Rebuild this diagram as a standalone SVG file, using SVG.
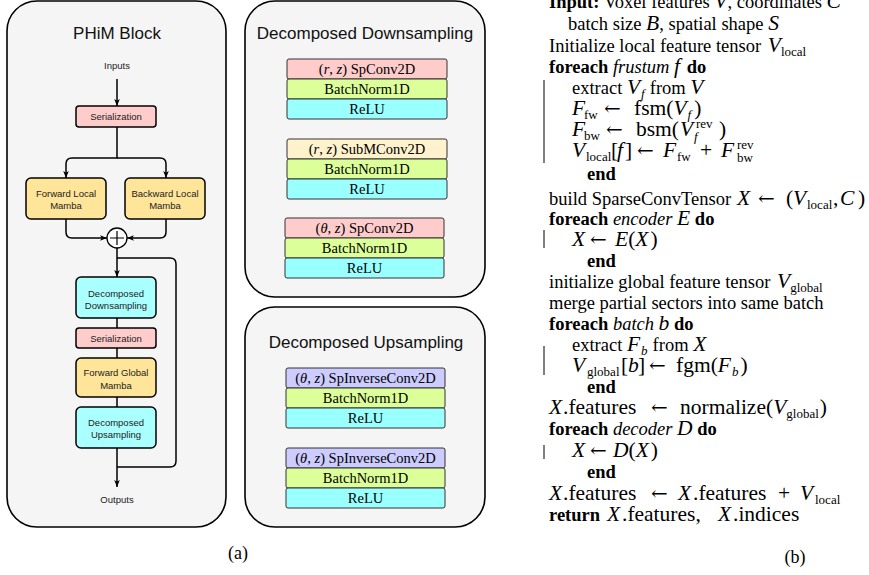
<svg xmlns="http://www.w3.org/2000/svg" width="869" height="575" viewBox="0 0 869 575">
<style>
.panel{fill:#f5f5f5;stroke:#000;stroke-width:1.6}
.box{stroke:#000;stroke-width:1.5}
.st{stroke:#333;stroke-width:1}
.pink{fill:#ffcccc}.yel{fill:#ffe599}.cyan{fill:#aaffff}
.sgreen{fill:#ddff99}.scyan{fill:#99ffff}.syel{fill:#fff2cc}.slav{fill:#ccccff}
.lbl{font-family:"Liberation Sans",Arial,sans-serif;font-size:9.5px;fill:#222;text-anchor:middle}
.title{font-family:"Liberation Sans",Arial,sans-serif;font-size:17px;fill:#111;text-anchor:middle}
.stx{font-family:"Liberation Serif","Times New Roman",serif;font-size:14.5px;fill:#000;text-anchor:middle}
.alg{font-family:"Liberation Serif","Times New Roman",serif;font-size:18.5px;fill:#000}
.cap{font-family:"Liberation Serif","Times New Roman",serif;font-size:18px;fill:#000;text-anchor:middle}
.conn{fill:none;stroke:#000;stroke-width:1.5}
.bar{stroke:#000;stroke-width:1}
.i{font-style:italic}.b{font-weight:bold}
.m{font-size:21.5px}
.mi{font-size:21.5px;font-style:italic}
.ar{font-family:"DejaVu Serif",serif;font-size:20px}
.sub{font-size:13px}
</style>
<defs>
<marker id="ah" viewBox="0 0 10 10" refX="10" refY="5" markerWidth="7" markerHeight="7" orient="auto" markerUnits="userSpaceOnUse">
<path d="M0,1 L10,5 L0,9 L2.5,5 Z" fill="#000"/>
</marker>
</defs>

<!-- PHiM Block panel -->
<g id="phim-panel">
<rect class="panel" x="7" y="1" width="219" height="526" rx="30"/>
<text class="title" x="117" y="39">PHiM Block</text>
<text class="lbl" x="117" y="68.5">Inputs</text>
<text class="lbl" x="117" y="503">Outputs</text>
</g>

<g id="connectors">
<path class="conn" d="M117,79 V106" marker-end="url(#ah)"/>
<path class="conn" d="M117,127 V158 H72 Q66,158 66,164 V178" marker-end="url(#ah)"/>
<path class="conn" d="M117,158 H160 Q166,158 166,164 V178" marker-end="url(#ah)"/>
<path class="conn" d="M66,219 V232 Q66,238 72,238 H107" marker-end="url(#ah)"/>
<path class="conn" d="M166,219 V232 Q166,238 160,238 H127" marker-end="url(#ah)"/>
<path class="conn" d="M117,248 V277" marker-end="url(#ah)"/>
<path class="conn" d="M117,258 H170 Q176,258 176,264 V461 Q176,467 170,467 H117"/>
<path class="conn" d="M117,318 V328 M117,348 V358 M117,397 V407"/>
<path class="conn" d="M117,448 V487" marker-end="url(#ah)"/>
</g>

<g id="serialization1">
<rect class="box pink" x="76" y="106" width="80" height="21" rx="3"/>
<text class="lbl" x="116" y="120">Serialization</text>
</g>
<g id="forward-local">
<rect class="box yel" x="26" y="178" width="80" height="41" rx="5"/>
<text class="lbl" x="66" y="196.5">Forward Local</text>
<text class="lbl" x="66" y="208.5">Mamba</text>
</g>
<g id="backward-local">
<rect class="box yel" x="125" y="178" width="80" height="41" rx="5"/>
<text class="lbl" x="165" y="196.5">Backward Local</text>
<text class="lbl" x="165" y="208.5">Mamba</text>
</g>
<g id="plus">
<circle cx="117" cy="238" r="10" fill="#fff" stroke="#000" stroke-width="1.3"/>
<path d="M110,238 H124 M117,231 V245" stroke="#000" stroke-width="1.2"/>
</g>
<g id="dec-down">
<rect class="box cyan" x="76" y="277" width="80" height="41" rx="5"/>
<text class="lbl" x="116" y="296.5">Decomposed</text>
<text class="lbl" x="116" y="308.5">Downsampling</text>
</g>
<g id="serialization2">
<rect class="box pink" x="76" y="328" width="80" height="20" rx="3"/>
<text class="lbl" x="116" y="342">Serialization</text>
</g>
<g id="forward-global">
<rect class="box yel" x="76" y="358" width="80" height="39" rx="5"/>
<text class="lbl" x="116" y="376">Forward Global</text>
<text class="lbl" x="116" y="388.5">Mamba</text>
</g>
<g id="dec-up">
<rect class="box cyan" x="76" y="407" width="80" height="41" rx="5"/>
<text class="lbl" x="116" y="426">Decomposed</text>
<text class="lbl" x="116" y="438">Upsampling</text>
</g>

<!-- Decomposed Downsampling panel -->
<g id="down-panel">
<rect class="panel" x="245" y="1" width="240" height="296" rx="30"/>
<text class="title" x="365" y="39">Decomposed Downsampling</text>
<rect class="st pink" x="287" y="59" width="160" height="20" rx="2"/>
<text class="stx" x="367" y="74"><tspan>(</tspan><tspan class="i">r</tspan><tspan>, </tspan><tspan class="i">z</tspan><tspan>) SpConv2D</tspan></text>
<rect class="st sgreen" x="287" y="79" width="160" height="20" rx="2"/>
<text class="stx" x="367" y="94">BatchNorm1D</text>
<rect class="st scyan" x="287" y="99" width="160" height="20" rx="2"/>
<text class="stx" x="367" y="114">ReLU</text>

<rect class="st syel" x="287" y="139" width="160" height="20" rx="2"/>
<text class="stx" x="367" y="154"><tspan>(</tspan><tspan class="i">r</tspan><tspan>, </tspan><tspan class="i">z</tspan><tspan>) SubMConv2D</tspan></text>
<rect class="st sgreen" x="287" y="159" width="160" height="20" rx="2"/>
<text class="stx" x="367" y="174">BatchNorm1D</text>
<rect class="st scyan" x="287" y="179" width="160" height="20" rx="2"/>
<text class="stx" x="367" y="194">ReLU</text>

<rect class="st pink" x="285" y="218" width="159" height="20" rx="2"/>
<text class="stx" x="364.5" y="233"><tspan>(</tspan><tspan class="i">θ</tspan><tspan>, </tspan><tspan class="i">z</tspan><tspan>) SpConv2D</tspan></text>
<rect class="st sgreen" x="285" y="238" width="159" height="20" rx="2"/>
<text class="stx" x="364.5" y="253">BatchNorm1D</text>
<rect class="st scyan" x="285" y="258" width="159" height="20" rx="2"/>
<text class="stx" x="364.5" y="273">ReLU</text>
</g>

<!-- Decomposed Upsampling panel -->
<g id="up-panel">
<rect class="panel" x="245" y="307" width="240" height="220" rx="30"/>
<text class="title" x="366" y="348">Decomposed Upsampling</text>
<rect class="st slav" x="286" y="368" width="159" height="20" rx="2"/>
<text class="stx" x="365.5" y="383"><tspan>(</tspan><tspan class="i">θ</tspan><tspan>, </tspan><tspan class="i">z</tspan><tspan>) SpInverseConv2D</tspan></text>
<rect class="st sgreen" x="286" y="388" width="159" height="20" rx="2"/>
<text class="stx" x="365.5" y="403">BatchNorm1D</text>
<rect class="st scyan" x="286" y="408" width="159" height="20" rx="2"/>
<text class="stx" x="365.5" y="423">ReLU</text>

<rect class="st slav" x="286" y="448" width="159" height="20" rx="2"/>
<text class="stx" x="365.5" y="463"><tspan>(</tspan><tspan class="i">θ</tspan><tspan>, </tspan><tspan class="i">z</tspan><tspan>) SpInverseConv2D</tspan></text>
<rect class="st sgreen" x="286" y="468" width="159" height="20" rx="2"/>
<text class="stx" x="365.5" y="483">BatchNorm1D</text>
<rect class="st scyan" x="286" y="488" width="159" height="20" rx="2"/>
<text class="stx" x="365.5" y="503">ReLU</text>
</g>

<text class="cap" x="238" y="559">(a)</text>

<!-- Algorithm -->
<g id="algorithm">
<line class="bar" x1="544" y1="80" x2="544" y2="163"/>
<line class="bar" x1="544" y1="230" x2="544" y2="248"/>
<line class="bar" x1="544" y1="346" x2="544" y2="375"/>
<line class="bar" x1="544" y1="445" x2="544" y2="459"/>

<text class="alg" x="549" y="8"><tspan class="b">Input:</tspan> Voxel features <tspan class="mi">V</tspan>, coordinates <tspan class="mi">C</tspan></text>
<text class="alg" x="568" y="30">batch size <tspan class="mi">B</tspan>, spatial shape <tspan class="mi">S</tspan></text>
<text class="alg" x="549" y="52">Initialize local feature tensor <tspan class="mi" dx="2">V</tspan><tspan class="sub" dy="4">local</tspan></text>
<text class="alg" x="549" y="73"><tspan class="b">foreach</tspan> <tspan class="i">frustum</tspan> <tspan class="mi">f</tspan> <tspan class="b" dx="2">do</tspan></text>
<text class="alg" x="572" y="94">extract <tspan class="mi">V</tspan><tspan class="sub i" dx="1" dy="4">f</tspan><tspan dx="5" dy="-4">from </tspan><tspan class="mi">V</tspan></text>
<text class="alg" x="572" y="115"><tspan class="mi">F</tspan><tspan class="sub" x="584" dy="4">fw</tspan><tspan class="ar" x="604" dy="-4">←</tspan><tspan class="m" x="634">fsm(</tspan><tspan class="mi">V</tspan><tspan class="sub i" dx="1" dy="4">f</tspan><tspan class="m" dx="3" dy="-4">)</tspan></text>
<text class="alg" x="572" y="136"><tspan class="mi">F</tspan><tspan class="sub" x="584" dy="4">bw</tspan><tspan class="ar" x="606" dy="-4">←</tspan><tspan class="m" x="636">bsm(</tspan><tspan class="mi" x="680">V</tspan><tspan class="sub i" x="694" dy="5">f</tspan><tspan class="sub" x="696" dy="-13">rev</tspan><tspan class="m" x="719" dy="8">)</tspan></text>
<text class="alg" x="572" y="157"><tspan class="mi">V</tspan><tspan class="sub" x="586" dy="4">local</tspan><tspan class="m" x="611" dy="-4">[</tspan><tspan class="mi" x="617">f</tspan><tspan class="m" x="625">]</tspan><tspan class="ar" x="637">←</tspan><tspan class="mi" x="663">F</tspan><tspan class="sub" x="677" dy="4">fw</tspan><tspan class="m" x="700" dy="-4">+</tspan><tspan class="mi" x="721">F</tspan><tspan class="sub" x="737" dy="5">bw</tspan><tspan class="sub" x="737" dy="-13">rev</tspan></text>
<text class="alg b" x="587" y="180">end</text>
<text class="alg" x="549" y="205">build SparseConvTensor<tspan class="mi" x="737">X</tspan><tspan class="ar" x="758">←</tspan><tspan class="m" x="786">(</tspan><tspan class="mi" x="793">V</tspan><tspan class="sub" x="807" dy="4">local</tspan><tspan class="m" x="833" dy="-4">,</tspan><tspan class="mi" x="840">C</tspan><tspan class="m" x="858">)</tspan></text>
<text class="alg" x="549" y="225"><tspan class="b">foreach</tspan> <tspan class="i">encoder</tspan> <tspan class="mi">E</tspan> <tspan class="b">do</tspan></text>
<text class="alg" x="572" y="246"><tspan class="mi">X</tspan><tspan class="ar" x="590">←</tspan><tspan class="mi" x="615">E</tspan><tspan class="m">(</tspan><tspan class="mi">X</tspan><tspan class="m" dx="2">)</tspan></text>
<text class="alg b" x="587" y="267">end</text>
<text class="alg" x="549" y="288">initialize global feature tensor <tspan class="mi" dx="2">V</tspan><tspan class="sub" dy="4">global</tspan></text>
<text class="alg" x="549" y="309">merge partial sectors into same batch</text>
<text class="alg" x="549" y="330"><tspan class="b">foreach</tspan> <tspan class="i">batch</tspan> <tspan class="mi">b</tspan> <tspan class="b">do</tspan></text>
<text class="alg" x="572" y="351">extract <tspan class="mi">F</tspan><tspan class="sub i" dx="1" dy="4">b</tspan><tspan dx="5" dy="-4">from </tspan><tspan class="mi">X</tspan></text>
<text class="alg" x="572" y="372"><tspan class="mi">V</tspan><tspan class="sub" x="587" dy="4">global</tspan><tspan class="m" x="621" dy="-4">[</tspan><tspan class="mi" x="628">b</tspan><tspan class="m" x="638">]</tspan><tspan class="ar" x="649">←</tspan><tspan class="m" x="676">fgm(</tspan><tspan class="mi">F</tspan><tspan class="sub i" dx="1" dy="4">b</tspan><tspan class="m" dx="2" dy="-4">)</tspan></text>
<text class="alg b" x="587" y="393">end</text>
<text class="alg" x="549" y="414"><tspan class="mi">X</tspan><tspan class="m" x="563">.features</tspan><tspan class="ar" x="651">←</tspan><tspan class="m" x="680">normalize(</tspan><tspan class="mi">V</tspan><tspan class="sub" dy="4">global</tspan><tspan class="m" dx="1" dy="-4">)</tspan></text>
<text class="alg" x="549" y="435"><tspan class="b">foreach</tspan> <tspan class="i">decoder</tspan> <tspan class="mi">D</tspan> <tspan class="b">do</tspan></text>
<text class="alg" x="572" y="457"><tspan class="mi">X</tspan><tspan class="ar" x="590">←</tspan><tspan class="mi" x="613">D</tspan><tspan class="m">(</tspan><tspan class="mi">X</tspan><tspan class="m" dx="2">)</tspan></text>
<text class="alg b" x="587" y="478">end</text>
<text class="alg" x="549" y="500"><tspan class="mi">X</tspan><tspan class="m" x="563">.features</tspan><tspan class="ar" x="651">←</tspan><tspan class="mi" x="678">X</tspan><tspan class="m" x="693">.features</tspan><tspan class="m" x="778">+</tspan><tspan class="mi" x="800">V</tspan><tspan class="sub" x="815" dy="4">local</tspan></text>
<text class="alg" x="549" y="521"><tspan class="b">return</tspan><tspan class="mi" x="607">X</tspan><tspan class="m" x="622">.features,</tspan><tspan class="mi" x="718">X</tspan><tspan class="m" x="733">.indices</tspan></text>
</g>

<text class="cap" x="795" y="563">(b)</text>
</svg>
